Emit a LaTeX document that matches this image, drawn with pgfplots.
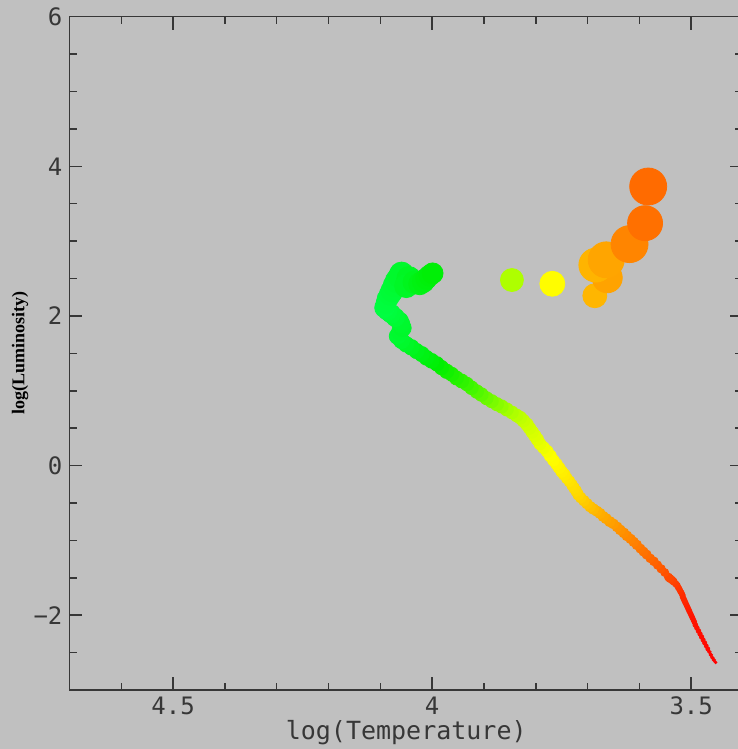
\documentclass[border=0pt]{standalone}
\usepackage{fontspec}
\setmainfont{Liberation Serif}
\setmonofont{DejaVu Sans Mono}
\usepackage{pgfplots}
\usepackage{pgfplotstable}
\pgfplotsset{compat=1.18}
\usetikzlibrary{calc,backgrounds}
\definecolor{bgc}{RGB}{192,192,192}
\definecolor{axc}{RGB}{55,55,55}

\pgfplotstableread{
x y s
3.453 -2.63 0.7
3.456 -2.60 0.8
3.459 -2.57 0.85
3.462 -2.53 0.9
3.465 -2.49 0.95
3.468 -2.45 1.0
3.471 -2.41 1.0
3.474 -2.37 1.05
3.477 -2.33 1.05
3.480 -2.29 1.1
3.483 -2.25 1.1
3.486 -2.21 1.15
3.489 -2.17 1.15
3.492 -2.13 1.2
3.494 -2.09 1.2
3.496 -2.06 1.2
3.498 -2.03 1.25
3.500 -2.00 1.25
3.502 -1.97 1.25
3.504 -1.94 1.3
3.506 -1.91 1.3
3.508 -1.88 1.3
3.510 -1.85 1.3
3.512 -1.82 1.35
3.514 -1.79 1.35
3.516 -1.76 1.35
3.517 -1.73 1.4
3.519 -1.70 1.4
3.521 -1.68 1.4
3.523 -1.65 1.45
3.525 -1.63 1.45
3.527 -1.60 1.5
3.530 -1.58 1.6
3.534 -1.55 1.8
3.537 -1.53 1.9
3.541 -1.51 2.0
3.544 -1.49 2.0
3.551 -1.43 2.0
3.558 -1.38 2.1
3.565 -1.33 2.1
3.572 -1.28 2.2
3.579 -1.24 2.2
3.586 -1.19 2.3
3.592 -1.15 2.3
3.598 -1.11 2.3
3.605 -1.06 2.4
3.611 -1.02 2.4
3.617 -0.98 2.4
3.624 -0.94 2.5
3.630 -0.90 2.5
3.637 -0.86 2.5
3.643 -0.82 2.5
3.650 -0.78 2.5
3.657 -0.75 2.6
3.664 -0.71 2.6
3.670 -0.68 2.6
3.676 -0.64 2.6
3.682 -0.61 2.6
3.689 -0.58 2.7
3.695 -0.55 2.7
3.701 -0.51 2.7
3.707 -0.47 2.7
3.713 -0.43 2.7
3.718 -0.39 2.8
3.722 -0.34 2.8
3.726 -0.30 2.8
3.730 -0.26 2.8
3.735 -0.21 2.8
3.740 -0.17 2.8
3.745 -0.12 2.9
3.750 -0.08 2.9
3.755 -0.03 2.9
3.760 0.02 2.9
3.766 0.07 2.9
3.772 0.13 3.0
3.778 0.19 3.0
3.785 0.24 3.0
3.792 0.29 3.0
3.797 0.35 3.1
3.802 0.40 3.1
3.807 0.45 3.1
3.812 0.50 3.1
3.817 0.55 3.2
3.824 0.60 3.2
3.830 0.64 3.2
3.837 0.67 3.2
3.846 0.71 3.2
3.856 0.75 3.3
3.866 0.79 3.3
3.875 0.82 3.3
3.885 0.86 3.3
3.895 0.90 3.3
3.905 0.95 3.4
3.914 0.99 3.4
3.924 1.04 3.4
3.933 1.09 3.4
3.943 1.13 3.5
3.953 1.17 3.5
3.962 1.22 3.5
3.972 1.26 3.6
3.982 1.31 3.6
3.991 1.36 3.6
4.001 1.40 3.7
4.011 1.44 3.7
4.020 1.49 3.8
4.030 1.53 3.8
4.040 1.58 3.9
4.050 1.62 3.9
4.059 1.67 4.0
4.067 1.73 4.1
4.062 1.79 4.2
4.057 1.84 4.3
4.060 1.89 4.4
4.063 1.93 4.5
4.071 1.98 4.6
4.079 2.03 4.7
4.086 2.07 4.8
4.092 2.11 4.9
4.089 2.17 5.0
4.086 2.23 5.2
4.081 2.29 5.4
4.077 2.34 5.6
4.072 2.41 5.8
4.067 2.47 6.0
4.061 2.53 6.0
4.059 2.56 6.0
4.045 2.50 6.0
4.050 2.40 5.8
4.035 2.45 5.5
4.024 2.43 5.5
4.017 2.46 5.5
4.011 2.50 5.3
4.005 2.54 5.2
3.999 2.57 5.2
}\mstrack

\pgfplotstableread{
x y s
3.846 2.48 5.75
3.768 2.43 6.25
3.686 2.27 6.0
3.662 2.51 7.5
3.684 2.68 8.5
3.664 2.75 9.0
3.619 2.96 9.25
3.589 3.24 8.75
3.583 3.73 9.25
}\giants

\begin{document}
\begin{tikzpicture}
\begin{axis}[
  scale only axis, width=336.75pt, height=336.65pt,
  xmin=3.4, xmax=4.7, ymin=-3, ymax=6, x dir=reverse,
  xtick={3.5,4,4.5}, xticklabels={3.5,4,4.5},
  minor xtick={3.6,3.7,3.8,3.9,4.1,4.2,4.3,4.4,4.6},
  ytick={-2,0,2,4,6}, yticklabels={−2,0,2,4,6},
  minor ytick={-2.5,-1.5,-1,-0.5,0.5,1,1.5,2.5,3,3.5,4.5,5,5.5},
  major tick length=6.5pt, minor tick length=3.75pt,
  tick align=inside, tick pos=both, ticklabel pos=left,
  axis line style={axc, line width=0.75pt},
  every tick/.style={axc, line width=0.75pt},
  every minor tick/.style={axc, line width=0.75pt},
  tick label style={font=\ttfamily\fontsize{12}{12}\selectfont, text=axc},
  point meta min=3.45, point meta max=4.10,
  colormap={hr}{rgb255(0cm)=(255,0,0); rgb255(5cm)=(255,20,0); rgb255(8cm)=(255,60,0);
    rgb255(11cm)=(255,90,0); rgb255(15cm)=(255,120,0); rgb255(23cm)=(255,176,0);
    rgb255(27cm)=(255,215,0); rgb255(32cm)=(255,255,0); rgb255(40cm)=(170,255,0);
    rgb255(48cm)=(60,245,0); rgb255(54cm)=(0,238,0); rgb255(65cm)=(0,255,70)},
  clip=true,
]
\coordinate (SW) at (rel axis cs:0,0);
\coordinate (NE) at (rel axis cs:1,1);
\addplot[scatter, only marks, mark=*, point meta=x,
  scatter/use mapped color={draw=mapped color, fill=mapped color},
  visualization depends on={\thisrow{s} \as \msz},
  scatter/@pre marker code/.append style={/tikz/mark size=\msz}]
  table[x=x, y=y] \mstrack;
\addplot[scatter, only marks, mark=*, point meta=x,
  scatter/use mapped color={draw=mapped color, fill=mapped color},
  visualization depends on={\thisrow{s} \as \msz},
  scatter/@pre marker code/.append style={/tikz/mark size=\msz}]
  table[x=x, y=y] \giants;
\end{axis}
\node[font=\ttfamily\fontsize{12.5}{12.5}\selectfont, text=axc] at ($(SW)!0.5!(SW-|NE)+(0,-21.5pt)$) {log(Temperature)};
\node[rotate=90, font=\bfseries\fontsize{9}{9}\selectfont, text=black] at ($(SW)!0.5!(SW|-NE)+(-24.75pt,0)$) {log(Luminosity)};
\pgfresetboundingbox
\path[use as bounding box] ($(SW)+(-34.75pt,-29.5pt)$) rectangle ($(NE)+(-2.5pt,8.35pt)$);
\begin{scope}[on background layer]
\fill[bgc] ($(SW)+(-34.75pt,-29.5pt)$) rectangle ($(NE)+(-2.5pt,8.35pt)$);
\end{scope}
\end{tikzpicture}
\end{document}
